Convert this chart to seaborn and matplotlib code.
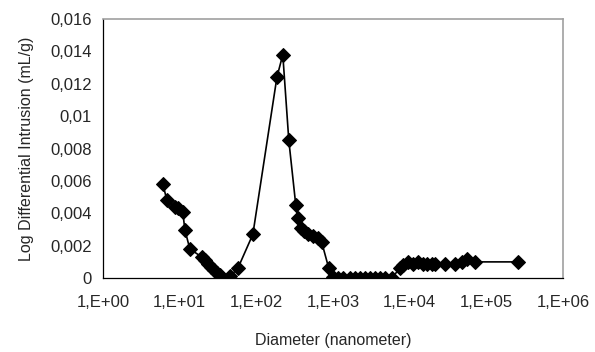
import numpy as np
import pandas as pd
import matplotlib
matplotlib.use("Agg")
import matplotlib.pyplot as plt
import seaborn as sns
from matplotlib.ticker import FixedLocator, FuncFormatter

# Pore size distribution
diameter_nm = [6.06, 6.83, 8.69, 9.5, 11.0, 11.7, 13.6, 19.5, 21.4, 23.4,
               25.6, 28.0, 30.6, 33.5, 35.5, 45.3, 57.5, 90.3, 186, 222,
               266, 328, 349, 382, 418, 469, 549, 637, 716, 884,
               998, 1159, 1346, 1660, 1931, 2240, 2605, 3025, 3515, 4085,
               4750, 5860, 7450, 8150, 9480, 11000, 12800, 14900, 16700, 19500,
               21400, 28800, 38900, 47900, 55700, 70600, 257000]
log_diff_intrusion = [0.0058, 0.0048, 0.0044, 0.0043, 0.0041, 0.0030, 0.0018, 0.0013, 0.0011, 0.0009,
                      0.0007, 0.0005, 0.0003, 0.0002, 0.0, 0.0001, 0.0006, 0.0027, 0.0124, 0.0138,
                      0.0085, 0.0045, 0.0037, 0.0031, 0.0029, 0.0027, 0.0026, 0.0025, 0.0022, 0.0006,
                      0.00005, 0.0, 0.0, 0.0, 0.0, 0.0, 0.0, 0.0, 0.0, 0.0,
                      0.0, 0.0, 0.0006, 0.0008, 0.0010, 0.0009, 0.0010, 0.0009, 0.0009, 0.0009,
                      0.0009, 0.0009, 0.0009, 0.0010, 0.0012, 0.0010, 0.0010]

x_ticks = [1e0, 1e1, 1e2, 1e3, 1e4, 1e5, 1e6]
y_ticks = [0, 0.002, 0.004, 0.006, 0.008, 0.01, 0.012, 0.014, 0.016]
y_tick_labels = ["0", "0,002", "0,004", "0,006", "0,008", "0,01", "0,012", "0,014", "0,016"]

df = pd.DataFrame({"diameter": diameter_nm, "intrusion": log_diff_intrusion})

sns.set_style("white")
plt.rcParams["font.family"] = ["Liberation Sans", "DejaVu Sans"]

fig = plt.figure(figsize=(5.95, 3.52), dpi=100)
ax = fig.add_axes([0.173, 0.21, 0.773, 0.736])

sns.lineplot(data=df, x="diameter", y="intrusion", sort=False, estimator=None,
             color="black", linewidth=1.2, marker="D", markersize=7.5,
             markeredgecolor="black", ax=ax)

ax.set_xscale("log")
ax.set_xlim(1, 1e6)
ax.set_ylim(0, 0.016)
ax.xaxis.set_major_locator(FixedLocator(x_ticks))
ax.xaxis.set_minor_locator(FixedLocator([]))
ax.xaxis.set_major_formatter(FuncFormatter(lambda v, p: "1,E+%02d" % round(np.log10(v))))
ax.set_yticks(y_ticks)
ax.set_yticklabels(y_tick_labels)

ax.tick_params(axis="both", which="major", labelsize=12, color="black",
               direction="out", length=4, width=0.8, pad=4)
ax.tick_params(axis="x", length=5, pad=7)

for side in ["left", "bottom"]:
    ax.spines[side].set_color("black")
    ax.spines[side].set_linewidth(0.9)
for side in ["top", "right"]:
    ax.spines[side].set_visible(True)
    ax.spines[side].set_color("#a0a0a0")
    ax.spines[side].set_linewidth(1.2)

ax.set_xlabel("Diameter (nanometer)", fontsize=11.5, labelpad=17)
ax.set_ylabel("Log Differential Intrusion (mL/g)", fontsize=11.5, labelpad=12)

fig.savefig("out.png", dpi=100)
